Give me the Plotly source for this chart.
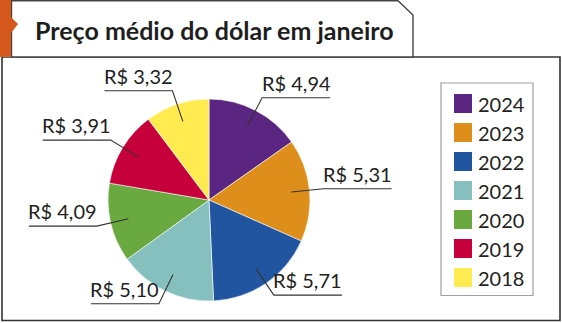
import math
import plotly.graph_objects as go

# ---- data ----
years = ["2024", "2023", "2022", "2021", "2020", "2019", "2018"]
values = [4.94, 5.31, 5.71, 5.10, 4.09, 3.91, 3.32]
value_labels = ["R$ 4,94", "R$ 5,31", "R$ 5,71", "R$ 5,10", "R$ 4,09", "R$ 3,91", "R$ 3,32"]
colors = ["#5A2681", "#DE8E1B", "#2255A0", "#85C0BE", "#6AA840", "#C5003B", "#FFEA50"]
title_text = "Preço médio do dólar em janeiro"

W, H = 562, 323
CX, CY, R = 209, 200, 101
TXT = "#231F20"
FONT = "Lato"

fig = go.Figure()

fig.add_trace(go.Pie(
    values=values, labels=years, sort=False, direction="clockwise", rotation=0,
    marker=dict(colors=colors, line=dict(color="white", width=0.6)),
    textinfo="none", hoverinfo="label+value", showlegend=False,
    domain=dict(x=[(CX - R) / W, (CX + R) / W], y=[1 - (CY + R) / H, 1 - (CY - R) / H]),
))

shapes = []
annotations = []

# frames
shapes.append(dict(type="rect", x0=2, y0=57, x1=560, y1=320.5, line=dict(color="#333333", width=1.6),
                   fillcolor="rgba(0,0,0,0)", layer="below"))
shapes.append(dict(type="path", path="M 11.5 0.8 L 398 0.8 L 413 15 L 413 57 L 11.5 57 Z",
                   line=dict(color="#444444", width=1.4), fillcolor="white", layer="below"))
shapes.append(dict(type="path", path="M 0 0 L 11 0 L 11 17 L 18 24 L 11 33 L 11 57 L 0 57 Z",
                   line=dict(width=0), fillcolor="#D5581C", layer="below"))

annotations.append(dict(x=33, y=30, xref="x", yref="y", text="<b>" + title_text + "</b>", showarrow=False,
                        xanchor="left", yanchor="middle", font=dict(family=FONT, size=25, color="#1E1E1E")))

# leader lines and labels
total = sum(values)
cum = 0.0
for v, lab in zip(values, value_labels):
    mid = (cum + v / 2) / total * 2 * math.pi
    cum += v
    sx, sy = math.sin(mid), -math.cos(mid)
    x0, y0 = CX + 0.82 * R * sx, CY + 0.82 * R * sy
    x1, y1 = CX + 1.14 * R * sx, CY + 1.14 * R * sy
    x2 = x1 + 68 if sx > 0 else x1 - 68
    shapes.append(dict(type="path", path=f"M {x0:.1f} {y0:.1f} L {x1:.1f} {y1:.1f} L {x2:.1f} {y1:.1f}",
                       line=dict(color="#333333", width=1.1), xref="x", yref="y"))
    annotations.append(dict(x=(x1 + x2) / 2, y=y1 - 1, xref="x", yref="y", text=lab, showarrow=False,
                            xanchor="center", yanchor="bottom", font=dict(family=FONT, size=20, color=TXT)))

# legend
shapes.append(dict(type="rect", x0=441, y0=83, x1=533, y1=295.5, line=dict(color="#A0A0A0", width=1.2),
                   fillcolor="white", layer="below"))
for i, (yr, c) in enumerate(zip(years, colors)):
    top = 94 + i * 29
    shapes.append(dict(type="rect", x0=454, y0=top, x1=472, y1=top + 19, line=dict(width=0), fillcolor=c,
                       xref="x", yref="y"))
    annotations.append(dict(x=476, y=top + 9.5, xref="x", yref="y", text=yr, showarrow=False,
                            xanchor="left", yanchor="middle", font=dict(family=FONT, size=20, color=TXT)))

for s in shapes:
    s.setdefault("xref", "x")
    s.setdefault("yref", "y")

fig.update_layout(
    width=W, height=H, margin=dict(l=0, r=0, t=0, b=0),
    paper_bgcolor="white", plot_bgcolor="rgba(0,0,0,0)",
    xaxis=dict(range=[0, W], visible=False, fixedrange=True),
    yaxis=dict(range=[H, 0], visible=False, fixedrange=True),
    shapes=shapes, annotations=annotations, showlegend=False,
)

fig.write_html("out.html")
